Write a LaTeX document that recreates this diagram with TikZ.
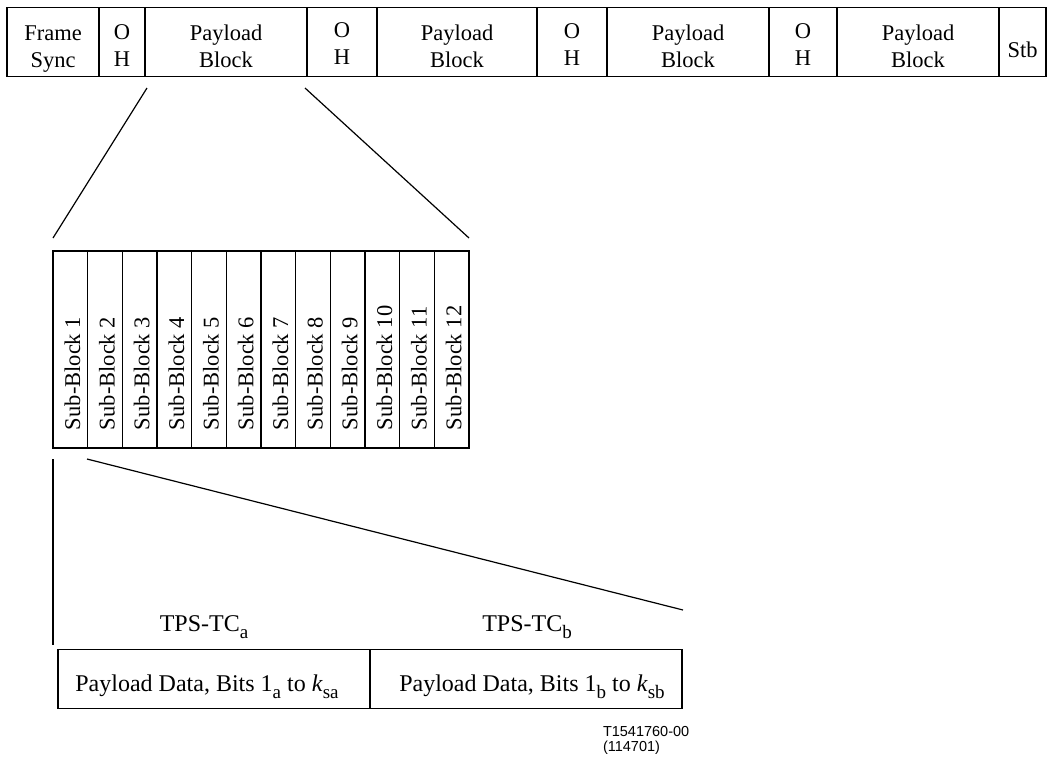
\documentclass[tikz,border=0pt]{standalone}
\usepackage{fontspec}
\setmainfont{Liberation Serif}
\newfontfamily\helv{Liberation Sans}
\newcommand\mysubs[1]{\raisebox{-0.3em}{\fontsize{19}{19}\selectfont #1}}
\begin{document}
\begin{tikzpicture}[x=1pt,y=-1pt,
  line width=1.2pt,
  cell/.style={draw, line width=1.2pt, inner sep=0pt, outer sep=0pt},
  lbl/.style={inner sep=0pt, outer sep=0pt, anchor=base, font=\fontsize{22.5}{27}\selectfont},
  blbl/.style={inner sep=0pt, outer sep=0pt, anchor=base, font=\fontsize{24}{27}\selectfont},
  sblbl/.style={inner sep=0pt, outer sep=0pt, anchor=west, rotate=90, font=\fontsize{22.5}{27}\selectfont},
  conn/.style={draw, line width=1.2pt},
  tag/.style={inner sep=0pt, outer sep=0pt, anchor=base west, font=\helv\fontsize{14.5}{15}\selectfont}]
\useasboundingbox (0,0) rectangle (1048,758);

% ---- top frame row ----
\node[cell, minimum width=92pt, minimum height=69pt] (fs) at (53,42) {};
\node[cell, minimum width=46pt, minimum height=69pt] (oh1) at (122,42) {};
\node[cell, minimum width=162pt, minimum height=69pt] (pb1) at (226,42) {};
\node[cell, minimum width=70pt, minimum height=69pt] (oh2) at (342,42) {};
\node[cell, minimum width=160pt, minimum height=69pt] (pb2) at (457,42) {};
\node[cell, minimum width=70pt, minimum height=69pt] (oh3) at (572,42) {};
\node[cell, minimum width=162pt, minimum height=69pt] (pb3) at (688,42) {};
\node[cell, minimum width=68pt, minimum height=69pt] (oh4) at (803,42) {};
\node[cell, minimum width=162pt, minimum height=69pt] (pb4) at (918,42) {};
\node[cell, minimum width=47pt, minimum height=69pt] (stb) at (1022.5,42) {};

\node[lbl] (t1a) at (53,40) {Frame};
\node[lbl] (t1b) at (53,67) {Sync};
\node[lbl] (t2a) at (122,39) {O};
\node[lbl] (t2b) at (122,66) {H};
\node[lbl] (t3a) at (226,40) {Payload};
\node[lbl] (t3b) at (226,67) {Block};
\node[lbl] (t4a) at (342,37) {O};
\node[lbl] (t4b) at (342,64) {H};
\node[lbl] (t5a) at (457,40) {Payload};
\node[lbl] (t5b) at (457,67) {Block};
\node[lbl] (t6a) at (572,38) {O};
\node[lbl] (t6b) at (572,65) {H};
\node[lbl] (t7a) at (688,40) {Payload};
\node[lbl] (t7b) at (688,67) {Block};
\node[lbl] (t8a) at (803,38) {O};
\node[lbl] (t8b) at (803,65) {H};
\node[lbl] (t9a) at (918,40) {Payload};
\node[lbl] (t9b) at (918,67) {Block};
\node[lbl] (t10) at (1022.5,57) {Stb};

% ---- sub-blocks ----
\foreach \i in {1,...,12} {
  \pgfmathsetmacro{\cx}{53+34.667*(\i-0.5)}
  \node[cell, minimum width=34.667pt, minimum height=197pt] (sb\i) at (\cx,349.5) {};
  \node[sblbl] (sbt\i) at (\cx+2,430) {Sub-Block \i};
}

% ---- expansion lines ----
\coordinate (p1a) at (147,88);
\coordinate (p1b) at (305,88);
\coordinate (s1a) at (53,238);
\coordinate (s1b) at (469,238);
\draw[conn] (p1a) -- (s1a);
\draw[conn] (p1b) -- (s1b);

\coordinate (q1a) at (53,459);
\coordinate (q1b) at (53,645);
\coordinate (q2a) at (87,459);
\coordinate (q2b) at (683,610);
\draw[conn] (q1a) -- (q1b);
\draw[conn] (q2a) -- (q2b);

% ---- payload data ----
\node[cell, minimum width=312pt, minimum height=59pt] (pda) at (214,679) {};
\node[cell, minimum width=312pt, minimum height=59pt] (pdb) at (526,679) {};
\node[blbl] (tpa) at (204,631) {TPS-TC\mysubs{a}};
\node[blbl] (tpb) at (527,631) {TPS-TC\mysubs{b}};
\node[blbl] (pdta) at (207,691) {Payload Data, Bits 1\mysubs{a} to \textit{k}\mysubs{sa}};
\node[blbl] (pdtb) at (532,691) {Payload Data, Bits 1\mysubs{b} to \textit{k}\mysubs{sb}};

\node[tag] (id1) at (603,736) {T1541760-00};
\node[tag] (id2) at (603,751) {(114701)};
\end{tikzpicture}
\end{document}
